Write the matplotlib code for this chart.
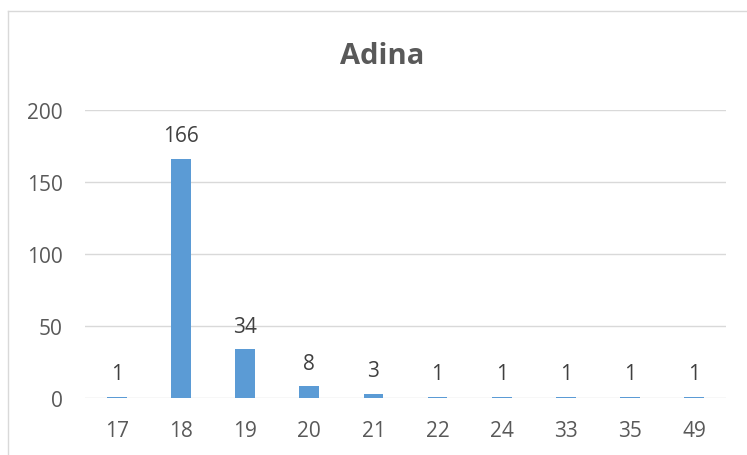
import matplotlib.pyplot as plt
from matplotlib.lines import Line2D

# Dados
ages = ['17', '18', '19', '20', '21', '22', '24', '33', '35', '49']
counts = [1, 166, 34, 8, 3, 1, 1, 1, 1, 1]

plt.rcParams['font.family'] = ['Open Sans', 'DejaVu Sans']

fig = plt.figure(figsize=(7.47, 4.56), dpi=100)
ax = fig.add_axes([85 / 747, 1 - 399 / 456, 641 / 747, 288 / 456])

bars = ax.bar(range(len(ages)), counts, width=0.31, color='#5B9BD5', zorder=3)

# rótulos acima das barras
for bar, c in zip(bars, counts):
    ax.annotate(str(c), (bar.get_x() + bar.get_width() / 2, bar.get_height()),
                xytext=(0, 9), textcoords='offset points',
                ha='center', va='bottom', fontsize=15, color='#404040')

ax.set_xlim(-0.5, len(ages) - 0.5)
ax.set_ylim(0, 200)
ax.set_yticks([0, 50, 100, 150, 200])
ax.set_xticks(range(len(ages)))
ax.set_xticklabels(ages)
ax.grid(axis='y', color='#D9D9D9', linewidth=1.0, zorder=0)
ax.tick_params(axis='both', length=0, labelsize=15, labelcolor='#595959')
ax.tick_params(axis='x', pad=16)
ax.tick_params(axis='y', pad=16)
for s in ax.spines.values():
    s.set_visible(False)

fig.text(382 / 747, 1 - 57 / 456, 'Adina', ha='center', va='center',
         fontsize=21, fontweight='bold', color='#595959')

# borda do gráfico
fig.add_artist(Line2D([8 / 747, 8 / 747], [0, 1 - 12 / 456], color='#D9D9D9', linewidth=1))
fig.add_artist(Line2D([8 / 747, 1], [1 - 12 / 456, 1 - 12 / 456], color='#D9D9D9', linewidth=1))

plt.savefig('out.png', dpi=100)
